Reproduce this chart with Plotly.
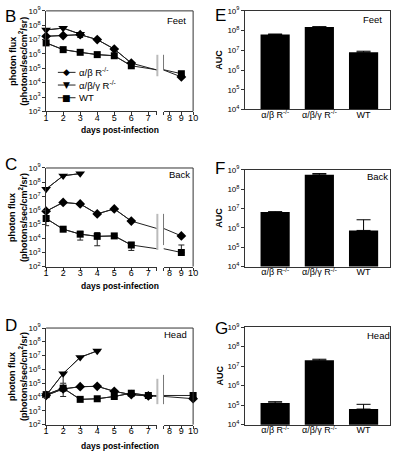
import plotly.graph_objects as go

# ---------------- data ----------------
days_bc = [1, 2, 3, 4, 5, 6, 9]
days_d = [1, 2, 3, 4, 5, 6, 7, 10]

# Feet (B)
ab_feet = [1.7e7, 1.9e7, 2.2e7, 1.0e7, 2.2e6, 2.3e5, 2.5e4]
ab_feet_err = [0, 0, 8e6, 0, 0, 0, 0]
abg_feet_days = [1, 2, 3]
abg_feet = [4.7e7, 6.3e7, 2.4e7]
wt_feet = [5.9e6, 2.0e6, 1.3e6, 9.0e5, 7.5e5, 1.5e5, 4.2e4]

# Back (C)
ab_back = [8.5e5, 3.6e6, 2.8e6, 5.5e5, 1.25e6, 1.7e5, 1.5e4]
abg_back_days = [1, 2, 3]
abg_back = [3.2e7, 2.8e8, 4.0e8]
wt_back = [2.6e5, 4.5e4, 2.0e4, 1.4e4, 1.5e4, 3.4e3, 1.0e3]
wt_back_err_up = [0, 0, 1.2e4, 1.2e4, 0, 1.8e3, 2.4e3]
wt_back_err_down = [1.8e5, 0, 1.24e4, 1.1e4, 0, 2.0e3, 0]

# Head (D)
ab_head = [1.3e4, 3.9e4, 5.6e4, 6.0e4, 2.6e4, 1.5e4, 1.2e4, 7.6e3]
abg_head_days = [1, 2, 3, 4]
abg_head = [1.3e4, 5.0e5, 7.6e6, 2.2e7]
abg_head_err_down = [0, 4.0e5, 0, 0]
wt_head = [1.5e4, 4.4e4, 6.8e3, 7.5e3, 1.1e4, 1.9e4, 1.3e4, 1.3e4]
wt_head_err_up = [5e3, 0, 0, 0, 0, 0, 0, 0]
wt_head_err_down = [5e3, 3.3e4, 0, 0, 0, 0, 0, 0]

# AUC (E, F, G)
groups = ['α/β R<sup>-/-</sup>', 'α/β/γ R<sup>-/-</sup>', 'WT']
auc_feet = [6.3e7, 1.5e8, 8.0e6]
auc_feet_err = [4e6, 8e6, 1.0e6]
auc_back = [6.6e6, 5.6e8, 7.4e5]
auc_back_err = [3e5, 9e7, 1.9e6]
auc_head = [1.3e5, 2.0e7, 6.3e4]
auc_head_err = [2e4, 2.5e6, 4.7e4]

y_ticks_line = [2, 3, 4, 5, 6, 7, 8, 9]
y_ticks_bar = [4, 5, 6, 7, 8, 9]

series_names = ['α/β R<sup>-/-</sup>', 'α/β/γ R<sup>-/-</sup>', 'WT']

# ---------------- helpers ----------------
W, H = 400, 456
def fx(p): return p / W
def fy(p): return 1 - p / H

AX = '#333333'
LC = '#222222'
FONT = 'Liberation Sans, Arial, sans-serif'

fig = go.Figure()
layout = dict(width=W, height=H, margin=dict(l=0, r=0, t=0, b=0),
              paper_bgcolor='white', plot_bgcolor='white', showlegend=False,
              font=dict(family=FONT, color='black'))
shapes = []
annotations = []

LX0, LX1, RX0, RX1 = 44, 157, 164, 194
line_panels = [
    dict(top=5, bot=108, ids=(1, 2), brk=((50, 72), (50, 66)), name='Feet', npos=(177, 15),
         letter='B', lpos=(0, -1), tpos=127),
    dict(top=166, bot=267, ids=(3, 4), brk=((213, 250), (213, 245)), name='Back', npos=(180, 173),
         letter='C', lpos=(0, 151), tpos=287),
    dict(top=330, bot=429, ids=(5, 6), brk=((382, 408), (378, 408)), name='Head', npos=(176, 337),
         letter='D', lpos=(0, 316), tpos=451),
]

def ylog(top, bot, anchor, ticks, visible=True):
    return dict(type='log', domain=[fy(bot), fy(top)], range=[ticks[0], ticks[-1]], anchor=anchor,
                visible=visible, showline=True, linecolor=AX, linewidth=1, ticks='outside', ticklen=3,
                tickcolor=AX, tickvals=[10 ** k for k in ticks],
                ticktext=[f'10<sup>{k}</sup>' for k in ticks], showgrid=False, zeroline=False,
                tickfont=dict(size=8, family=FONT))

def xname(i): return 'xaxis' if i == 1 else f'xaxis{i}'
def yname(i): return 'yaxis' if i == 1 else f'yaxis{i}'
def xref(i): return 'x' if i == 1 else f'x{i}'
def yref(i): return 'y' if i == 1 else f'y{i}'

for p in line_panels:
    li, ri = p['ids']
    left_ticks = [1, 2, 3, 4, 5, 6, 7, 7.5]
    right_ticks = [7.5, 8, 9, 10]
    common_x = dict(ticks='outside', ticklen=3, tickcolor=AX, showline=True, linecolor=AX,
                    showgrid=False, zeroline=False, tickfont=dict(size=9, family=FONT),
                    ticklabelstandoff=-5)
    layout[xname(li)] = dict(domain=[fx(LX0), fx(LX1)], range=[1, 7.5], anchor=yref(li),
                             tickvals=left_ticks, ticktext=[str(t) if t != 7.5 else '' for t in left_ticks],
                             **common_x)
    layout[xname(ri)] = dict(domain=[fx(RX0), fx(RX1)], range=[7.5, 10], anchor=yref(ri),
                             tickvals=right_ticks, ticktext=[str(t) if t != 7.5 else '' for t in right_ticks],
                             **common_x)
    layout[yname(li)] = ylog(p['top'], p['bot'], xref(li), y_ticks_line)
    layout[yname(ri)] = ylog(p['top'], p['bot'], xref(ri), y_ticks_line, visible=False)
    shapes.append(dict(type='line', xref='paper', yref='paper', x0=fx(LX0), x1=fx(RX1),
                       y0=fy(p['top']), y1=fy(p['top']), line=dict(color=AX, width=1)))
    shapes.append(dict(type='line', xref='paper', yref='paper', x0=fx(RX1), x1=fx(RX1),
                       y0=fy(p['top']), y1=fy(p['bot']), line=dict(color=AX, width=1)))
    (a0, a1), (b0, b1) = p['brk']
    shapes.append(dict(type='line', xref='paper', yref='paper', x0=fx(157.5), x1=fx(157.5),
                       y0=fy(a0), y1=fy(a1), line=dict(color='#bbbbbb', width=2)))
    shapes.append(dict(type='line', xref='paper', yref='paper', x0=fx(163.8), x1=fx(163.8),
                       y0=fy(b0), y1=fy(b1), line=dict(color='#777777', width=1)))
    annotations.append(dict(text=p['name'], x=fx(p['npos'][0]), y=fy(p['npos'][1]), xref='paper', yref='paper',
                            showarrow=False, xanchor='center', yanchor='middle', font=dict(size=9.5)))
    annotations.append(dict(text=p['letter'], x=fx(p['lpos'][0]), y=fy(p['lpos'][1]), xref='paper', yref='paper',
                            showarrow=False, xanchor='left', yanchor='top', font=dict(size=17)))
    annotations.append(dict(text='<b>photon flux</b><br><b>(photons/sec/cm<sup>2</sup>/sr)</b>',
                            x=fx(16), y=fy((p['top'] + p['bot']) / 2), xref='paper', yref='paper',
                            textangle=-90, showarrow=False, xanchor='center', yanchor='middle',
                            font=dict(size=9)))
    annotations.append(dict(text='<b>days post-infection</b>', x=fx(119), y=fy(p['tpos']),
                            xref='paper', yref='paper', showarrow=False, xanchor='center',
                            yanchor='middle', font=dict(size=8.5)))

def add_series(panel, x, y, sym, size, up=None, down=None):
    li, ri = panel['ids']
    for (ax, lo, hi) in ((li, 1, 7.5), (ri, 7.5, 10)):
        fig.add_trace(go.Scatter(x=x, y=y, mode='lines', line=dict(color=LC, width=1),
                                 xaxis=xref(ax), yaxis=yref(ax), hoverinfo='skip'))
        idx = [i for i, d in enumerate(x) if lo <= d <= hi]
        if not idx:
            continue
        err = None
        if up is not None:
            err = dict(type='data', symmetric=False, array=[up[i] for i in idx],
                       arrayminus=[down[i] for i in idx], color=LC, thickness=1, width=3)
        fig.add_trace(go.Scatter(x=[x[i] for i in idx], y=[y[i] for i in idx], mode='lines+markers',
                                 line=dict(color=LC, width=1), cliponaxis=False,
                                 marker=dict(symbol=sym, size=size, color='black'),
                                 error_y=err, xaxis=xref(ax), yaxis=yref(ax)))

pB, pC, pD = line_panels
add_series(pB, days_bc, wt_feet, 'square', 7)
add_series(pB, days_bc, ab_feet, 'diamond', 7.5, ab_feet_err, ab_feet_err)
add_series(pB, abg_feet_days, abg_feet, 'triangle-down', 8.5)

add_series(pC, days_bc, wt_back, 'square', 7, wt_back_err_up, wt_back_err_down)
add_series(pC, days_bc, ab_back, 'diamond', 7.5)
add_series(pC, abg_back_days, abg_back, 'triangle-down', 8.5)

add_series(pD, days_d, wt_head, 'square', 7, wt_head_err_up, wt_head_err_down)
add_series(pD, days_d, ab_head, 'diamond', 7.5)
add_series(pD, abg_head_days, abg_head, 'triangle-down', 8.5, [0] * 4, abg_head_err_down)

# manual legend in panel B
glyphs = ['◆', '▼', '■']
leg_y = [68, 81, 94]
for g, name, yy in zip(glyphs, series_names, leg_y):
    shapes.append(dict(type='line', xref='paper', yref='paper', x0=fx(56), x1=fx(74), y0=fy(yy), y1=fy(yy),
                       line=dict(color=LC, width=1)))
    annotations.append(dict(text=g, x=fx(65), y=fy(yy), xref='paper', yref='paper', showarrow=False,
                            xanchor='center', yanchor='middle', font=dict(size=9, family='DejaVu Sans')))
    annotations.append(dict(text=name, x=fx(76), y=fy(yy), xref='paper', yref='paper', showarrow=False,
                            xanchor='left', yanchor='middle', font=dict(size=9.5)))

# ---------------- bar panels ----------------
BX0, BX1 = 247, 395
bar_panels = [
    dict(top=5, bot=106, i=7, vals=auc_feet, err=auc_feet_err, name='Feet', npos=(377, 14), letter='E', lpos=(214, -2)),
    dict(top=168, bot=267, i=8, vals=auc_back, err=auc_back_err, name='Back', npos=(382, 175), letter='F', lpos=(214, 155)),
    dict(top=329, bot=429, i=9, vals=auc_head, err=auc_head_err, name='Head', npos=(383, 338), letter='G', lpos=(214, 319)),
]
for p in bar_panels:
    i = p['i']
    layout[xname(i)] = dict(domain=[fx(BX0), fx(BX1)], type='category', range=[-0.68, 2.6], anchor=yref(i),
                            showline=True, mirror=True, linecolor=AX, ticks='', showgrid=False,
                            tickfont=dict(size=9, family=FONT), ticklabelstandoff=-3)
    ya = ylog(p['top'], p['bot'], xref(i), y_ticks_bar)
    ya['mirror'] = True
    layout[yname(i)] = ya
    fig.add_trace(go.Bar(x=groups, y=p['vals'], width=0.66, marker=dict(color='black', line=dict(width=0)),
                         error_y=dict(type='data', symmetric=False, array=p['err'], arrayminus=[0, 0, 0],
                                      color='black', thickness=1, width=7),
                         xaxis=xref(i), yaxis=yref(i)))
    annotations.append(dict(text=p['name'], x=fx(p['npos'][0]), y=fy(p['npos'][1]), xref='paper', yref='paper',
                            showarrow=False, xanchor='center', yanchor='middle', font=dict(size=9.5)))
    annotations.append(dict(text=p['letter'], x=fx(p['lpos'][0]), y=fy(p['lpos'][1]), xref='paper', yref='paper',
                            showarrow=False, xanchor='left', yanchor='top', font=dict(size=17)))
    annotations.append(dict(text='<b>AUC</b>', x=fx(221), y=fy((p['top'] + p['bot']) / 2), xref='paper',
                            yref='paper', textangle=-90, showarrow=False, xanchor='center', yanchor='middle',
                            font=dict(size=9)))

layout['shapes'] = shapes
layout['annotations'] = annotations
fig.update_layout(**layout)
fig.write_html('out.html', config={'displayModeBar': False},
               post_script="document.body.style.margin='0px';document.body.style.padding='0px';")
